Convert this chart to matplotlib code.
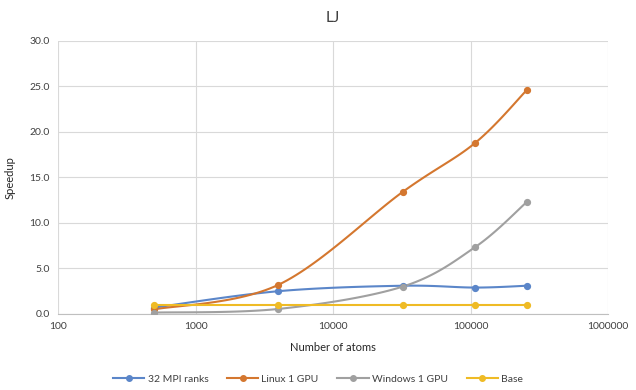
import numpy as np
import matplotlib; matplotlib.use("Agg")
import matplotlib.pyplot as plt
from matplotlib.ticker import FixedLocator, FixedFormatter, NullLocator

plt.rcParams['font.family'] = ['Lato', 'DejaVu Sans']

atoms = [500, 4000, 32000, 108000, 256000]
mpi32 = [0.7, 2.5, 3.1, 2.9, 3.1]
linux_gpu = [0.5, 3.2, 13.4, 18.8, 24.6]
windows_gpu = [0.15, 0.55, 3.0, 7.35, 12.3]
base = [1.0, 1.0, 1.0, 1.0, 1.0]

series = [("32 MPI ranks", mpi32, "#5B86C9"),
          ("Linux 1 GPU", linux_gpu, "#D4772F"),
          ("Windows 1 GPU", windows_gpu, "#A0A0A0"),
          ("Base", base, "#EFBB25")]


def smooth(xs, ys, n=30):
    # Excel-style smoothed line: Catmull-Rom through the points, in log-x space
    lx = np.log10(xs); y = np.asarray(ys, float)
    px = np.concatenate([[lx[0]], lx, [lx[-1]]])
    py = np.concatenate([[y[0]], y, [y[-1]]])
    ox, oy = [], []
    for i in range(1, len(px) - 2):
        p0, p1, p2, p3 = px[i-1], px[i], px[i+1], px[i+2]
        q0, q1, q2, q3 = py[i-1], py[i], py[i+1], py[i+2]
        # Bezier control points (tension 1/6 as Excel does)
        c1x, c1y = p1 + (p2 - p0) / 6, q1 + (q2 - q0) / 6
        c2x, c2y = p2 - (p3 - p1) / 6, q2 - (q3 - q1) / 6
        t = np.linspace(0, 1, n)
        b = [(1-t)**3, 3*(1-t)**2*t, 3*(1-t)*t**2, t**3]
        ox.append(b[0]*p1 + b[1]*c1x + b[2]*c2x + b[3]*p2)
        oy.append(b[0]*q1 + b[1]*c1y + b[2]*c2y + b[3]*q2)
    return 10**np.concatenate(ox), np.concatenate(oy)


fig = plt.figure(figsize=(6.36, 3.9), dpi=100)
ax = fig.add_axes([0.0912, 0.195, 0.865, 0.70])

for name, vals, col in series:
    sx, sy = smooth(atoms, vals)
    ax.plot(sx, sy, color=col, lw=1.5, zorder=3, solid_capstyle="round")
    ax.plot(atoms, vals, "o", color=col, ms=4.2, zorder=4)
    ax.plot([], [], "-o", color=col, lw=1.5, ms=4, label=name)

ax.set_xscale("log")
ax.set_xlim(100, 1000000)
ax.set_ylim(0, 30)
xt = [100, 1000, 10000, 100000, 1000000]
ax.xaxis.set_major_locator(FixedLocator(xt))
ax.xaxis.set_major_formatter(FixedFormatter([str(v) for v in xt]))
ax.xaxis.set_minor_locator(NullLocator())
ax.set_yticks(np.arange(0, 31, 5))
ax.set_yticklabels([f"{v:.1f}" for v in np.arange(0, 31, 5)])
ax.tick_params(length=0, labelsize=7.5, colors="#404040", pad=6)
ax.grid(True, color="#D9D9D9", lw=0.8)
ax.set_axisbelow(True)
for s in ["top", "right", "left"]:
    ax.spines[s].set_visible(False)
ax.spines["bottom"].set_color("#BFBFBF")

ax.set_title("LJ", fontsize=11, color="#404040", pad=14)
ax.set_xlabel("Number of atoms", fontsize=8, color="#262626", labelpad=8)
ax.set_ylabel("Speedup", fontsize=8, color="#262626", labelpad=10)

fig.legend(loc="center", bbox_to_anchor=(0.5, 0.028), ncol=4, frameon=False,
           fontsize=7.5, handlelength=3, columnspacing=1.8, handletextpad=0.3,
           labelcolor="#404040")

fig.savefig("out.png", dpi=100)
